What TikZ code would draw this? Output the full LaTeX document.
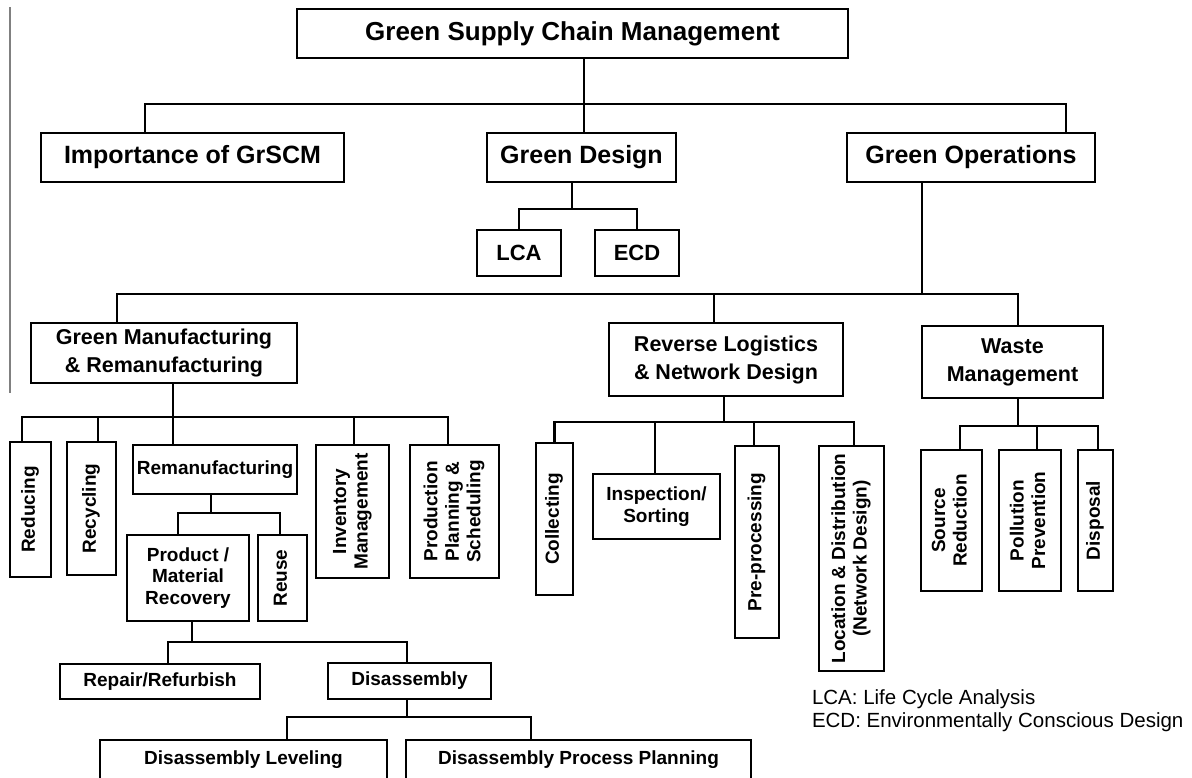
\documentclass[tikz,border=0pt]{standalone}
\usepackage{fontspec}
\setmainfont{Liberation Sans}
\usepackage{graphicx}
\usepackage{tikz}

\newcommand{\vlabel}[1]{\rotatebox{90}{\begin{tabular}{@{}c@{}}#1\end{tabular}}}

\begin{document}
\begin{tikzpicture}[x=1pt, y=-1pt,
  every node/.style={draw, line width=1.4pt, inner sep=0pt, outer sep=0pt, align=center},
  box/.style n args={2}{minimum width=#1, minimum height=#2},
  top/.style={font=\fontsize{26}{30}\selectfont\bfseries},
  big/.style={font=\fontsize{25}{28}\selectfont\bfseries},
  mid/.style={font=\fontsize{21.5}{28}\selectfont\bfseries},
  lab/.style={font=\fontsize{22}{26}\selectfont\bfseries},
  small/.style={font=\fontsize{19}{21.5}\selectfont\bfseries},
  link/.style={line width=2.8pt}]
\useasboundingbox (0,0) rectangle (1192,777);
\clip (0,0) rectangle (1192,777);

\draw[gray, line width=1.5pt] (10,7) -- (10,393);

\node[top, box={551}{49}] (gscm) at (572.5,33.5) {Green Supply Chain Management};

\node[big, box={303}{49}] (imp) at (192.5,157.5) {Importance of GrSCM};
\node[big, box={189}{49}] (gd) at (581.5,157.5) {Green Design};
\node[big, box={248}{49}] (go) at (971,157.5) {Green Operations};

\node[lab, box={84}{46}] (lca) at (519,253) {LCA};
\node[lab, box={84}{46}] (ecd) at (637,253) {ECD};

\node[mid, box={266}{60}] (gmr) at (164,353) {Green Manufacturing\\\& Remanufacturing};
\node[mid, box={234}{73}] (rl) at (726,359.5) {Reverse Logistics\\\& Network Design};
\node[mid, box={181}{72}] (wm) at (1012.5,362) {Waste\\Management};

\node[small, box={41}{135}] (red) at (30.5,509.5) {\vlabel{Reducing}};
\node[small, box={49}{133}] (rec) at (91.5,508.5) {\vlabel{Recycling}};
\node[small, box={164}{49}] (rem) at (215,469.5) {Remanufacturing};
\node[small, box={73}{133}] (inv) at (352.5,511.5) {\vlabel{Inventory\\Management}};
\node[small, box={89}{133}] (pps) at (454.5,511.5) {\vlabel{Production\\Planning \&\\Scheduling}};

\node[small, box={122}{86}] (pmr) at (188,578) {Product /\\Material\\Recovery};
\node[small, box={49}{86}] (reu) at (282.5,578) {\vlabel{Reuse}};

\node[small, box={200}{35}] (rr) at (160,681.5) {Repair/Refurbish};
\node[small, box={163}{36}] (dis) at (409.5,681) {Disassembly};

\node[small, box={287}{40}] (dl) at (243.5,760) {Disassembly Leveling};
\node[small, box={345}{40}] (dpp) at (578.5,760) {Disassembly Process Planning};

\node[small, box={37}{152}] (col) at (554.5,519) {\vlabel{Collecting}};
\node[small, box={127}{65}] (ins) at (656.5,506.5) {Inspection/\\Sorting};
\node[small, box={44}{192}] (pre) at (757,542) {\vlabel{Pre-processing}};
\node[small, box={65}{225}] (loc) at (851.5,558.5) {\vlabel{Location \& Distribution\\(Network Design)}};

\node[small, box={61}{141}] (sr) at (951.5,520.5) {\vlabel{Source\\Reduction}};
\node[small, box={62}{141}] (pp) at (1030,520.5) {\vlabel{Pollution\\Prevention}};
\node[small, box={35}{141}] (dsp) at (1095.5,520.5) {\vlabel{Disposal}};

\node[draw=none, anchor=north west, align=left, font=\fontsize{20.5}{23}\selectfont] (key) at (812,690) {LCA: Life Cycle Analysis\\ECD: Environmentally Conscious Design};

\coordinate (bus1) at (584,104);
\coordinate (bus2) at (572,209);
\coordinate (bus3) at (922,294);
\coordinate (bus4) at (173,417);
\coordinate (bus5) at (211,513);
\coordinate (bus6) at (192,642);
\coordinate (bus7) at (407,717);
\coordinate (bus8) at (724,422);
\coordinate (bus9) at (1018,426);

\draw[link] ([xshift=11.5]gscm.south) -- ([xshift=2.5]gd.north);
\draw[link] ([xshift=-47.5]imp.north) |- (bus1) -| ([xshift=95]go.north);

\draw[link] ([xshift=-9.5]gd.south) -- (bus2);
\draw[link] (lca.north) |- (bus2) -| (ecd.north);

\draw[link] ([xshift=-49]go.south) -- (bus3);
\draw[link] ([xshift=-47]gmr.north) |- (bus3) -| ([xshift=5.5]wm.north);
\draw[link] ([xshift=-12]rl.north) -- ([xshift=-12]rl.north |- bus3);

\draw[link] ([xshift=9]gmr.south) -- (bus4);
\draw[link] ([xshift=-8.5]red.north) |- (bus4) -| ([xshift=-6.5]pps.north);
\draw[link] ([xshift=6.5]rec.north) -- ([xshift=6.5]rec.north |- bus4);
\draw[link] ([xshift=-42]rem.north) -- (bus4);
\draw[link] ([xshift=1.5]inv.north) -- ([xshift=1.5]inv.north |- bus4);

\draw[link] ([xshift=-4]rem.south) -- (bus5);
\draw[link] ([xshift=-10]pmr.north) |- (bus5) -| ([xshift=-2.5]reu.north);

\draw[link] ([xshift=4]pmr.south) -- (bus6);
\draw[link] ([xshift=8]rr.north) |- (bus6) -| ([xshift=-2.5]dis.north);

\draw[link] ([xshift=-2.5]dis.south) -- (bus7);
\draw[link] ([xshift=43.5]dl.north) |- (bus7) -| ([xshift=-47.5]dpp.north);

\draw[link] ([xshift=-2]rl.south) -- (bus8);
\draw[link] (col.north) |- (bus8) -| ([xshift=2.5]loc.north);
\draw[link] ([xshift=-1.5]ins.north) -- ([xshift=-1.5]ins.north |- bus8);
\draw[link] ([xshift=-3]pre.north) -- ([xshift=-3]pre.north |- bus8);

\draw[link] ([xshift=5.5]wm.south) -- (bus9);
\draw[link] ([xshift=8.5]sr.north) |- (bus9) -| ([xshift=2.5]dsp.north);
\draw[link] ([xshift=7]pp.north) -- ([xshift=7]pp.north |- bus9);
\end{tikzpicture}
\end{document}
